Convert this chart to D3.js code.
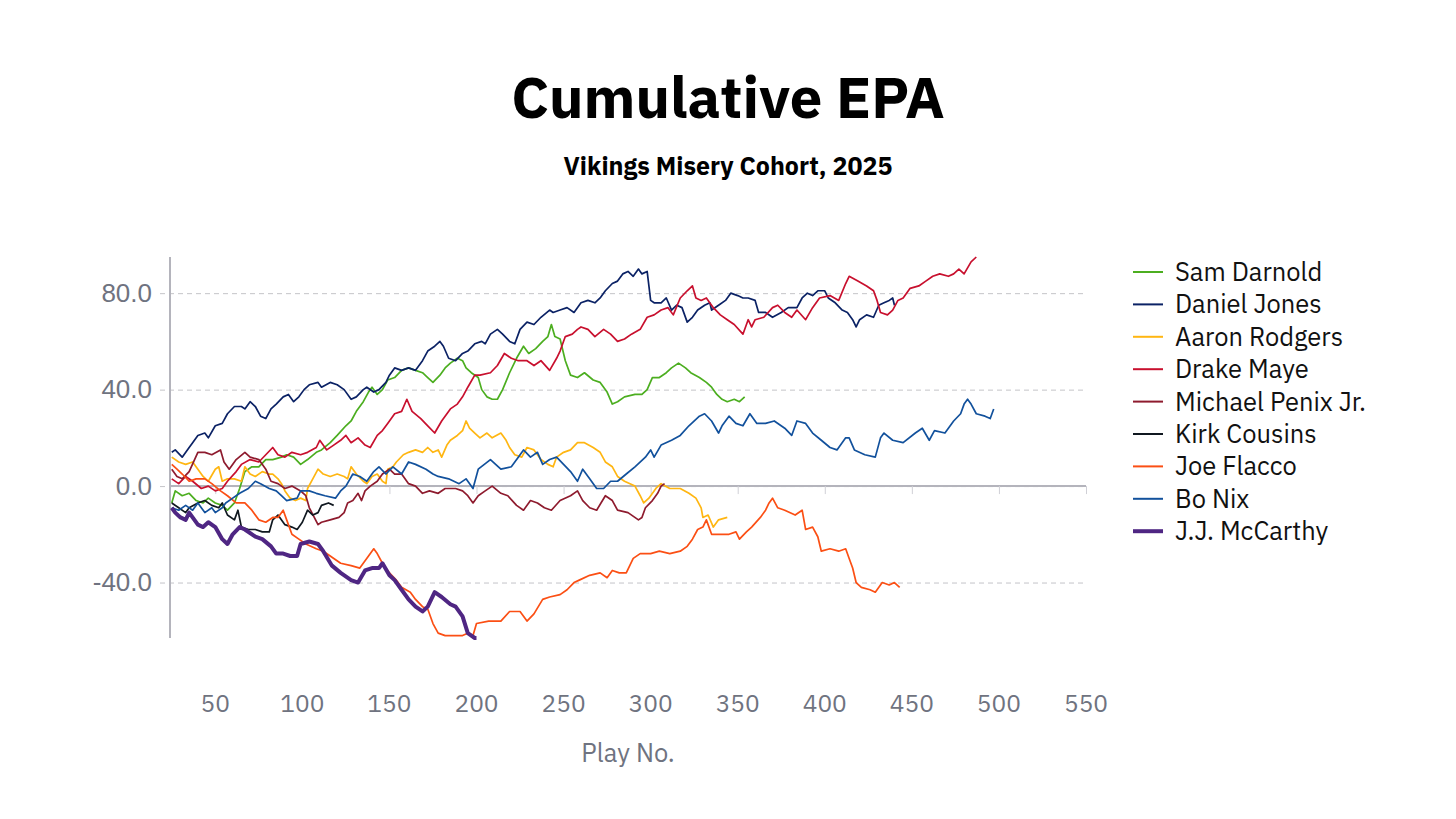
<!DOCTYPE html>
<html>
<head>
<meta charset="utf-8">
<script src="https://cdnjs.cloudflare.com/ajax/libs/d3/7.8.5/d3.min.js"></script>
<style>
  body { margin: 0; background: #fff; }
  svg { display: block; font-family: "IBM Plex Sans", Roboto, "Noto Sans", sans-serif; }
</style>
</head>
<body>
<svg id="chart"></svg>
<script>
// cumulative EPA by play number: [play, epa]
const samDarnold = [[25,-7],[27,-2],[31,-4],[35,-3],[39,-6],[43,-7],[46,-5],[50,-7],[54,-8],[57,-10],[61,-7],[64,-1],[67,6],[71,8],[75,8],[79,11],[83,11],[88,12],[91,13],[95,12],[99,9],[103,11],[108,14],[111,15],[116,18],[120,21],[125,25],[128,27],[131,31],[135,35],[138,39],[140,41],[143,38],[146,40],[149,44],[153,45],[157,48],[161,49],[165,48],[169,47],[172,45],[175,43],[179,46],[182,49],[185,51],[189,53],[192,52],[194,49],[197,47],[201,45],[203,40],[206,37],[209,36],[212,36],[215,40],[219,47],[223,53],[227,58],[230,55],[234,57],[238,60],[241,62],[243,67],[245,62],[248,61],[251,52],[254,46],[258,45],[262,47],[267,44],[271,43],[275,39],[278,34],[281,35],[285,37],[291,38],[295,38],[298,40],[301,45],[305,45],[309,47],[312,49],[316,51],[320,49],[323,47],[328,45],[332,43],[335,41],[338,38],[341,36],[344,35],[348,36],[351,35],[354,37]];

const danielJones = [[25,14],[27,15],[31,12],[35,16],[37,18],[40,21],[44,22],[46,20],[50,25],[54,26],[57,30],[61,33],[65,33],[67,32],[70,35],[73,33],[76,29],[79,28],[82,32],[85,34],[89,37],[92,38],[95,35],[98,37],[101,40],[104,42],[109,43],[111,41],[116,43],[120,42],[124,40],[128,36],[131,37],[135,40],[137,41],[141,39],[144,40],[148,43],[150,46],[153,49],[157,48],[161,49],[165,48],[169,52],[172,56],[176,58],[179,60],[181,58],[184,53],[188,52],[192,55],[195,56],[199,59],[203,60],[205,59],[208,63],[212,65],[215,63],[219,60],[222,59],[225,65],[229,68],[233,67],[237,70],[242,73],[244,72],[248,73],[252,74],[256,72],[260,76],[264,77],[268,76],[271,78],[274,81],[278,84],[281,85],[284,88],[287,89],[290,87],[293,90],[295,88],[298,89],[300,77],[302,76],[306,76],[309,78],[312,73],[315,75],[318,74],[321,68],[324,70],[327,73],[331,75],[334,76],[335,73],[339,75],[343,77],[346,80],[350,79],[353,78],[356,78],[360,77],[362,72],[366,72],[370,70],[375,72],[379,74],[384,74],[387,78],[390,80],[393,79],[396,81],[400,81],[402,78],[406,76],[410,73],[413,72],[416,69],[418,66],[420,69],[424,71],[428,70],[431,75],[434,76],[437,77],[439,78],[440,75]];

const aaronRodgers = [[25,12],[29,10],[33,9],[37,10],[40,7],[43,4],[46,2],[50,7],[52,8],[54,2],[57,3],[61,3],[65,2],[67,8],[70,5],[73,4],[77,6],[81,5],[83,5],[86,3],[88,1],[90,-2],[93,-5],[96,-6],[99,-5],[102,-6],[103,-1],[106,3],[109,7],[112,5],[116,4],[120,5],[124,4],[126,3],[128,8],[131,5],[135,2],[137,1],[140,4],[143,5],[146,2],[148,1],[149,7],[152,8],[154,10],[158,13],[161,14],[165,15],[169,14],[172,16],[175,14],[178,15],[180,12],[183,17],[185,19],[189,21],[192,23],[194,27],[196,24],[199,22],[202,20],[206,22],[209,20],[214,22],[217,19],[219,16],[222,13],[226,12],[229,16],[233,15],[237,11],[241,9],[244,8],[246,12],[250,14],[254,15],[258,18],[262,18],[267,16],[271,14],[274,10],[278,8],[281,4],[285,2],[291,0],[294,-4],[296,-7],[299,-5],[303,-1],[306,1],[311,-1],[317,-1],[322,-3],[326,-5],[329,-9],[330,-13],[333,-12],[336,-17],[339,-14],[344,-13]];

const drakeMaye = [[25,3],[29,1],[33,4],[37,2],[42,-1],[46,0],[50,-2],[54,-1],[57,2],[62,6],[65,9],[70,11],[75,10],[79,13],[83,16],[86,13],[90,12],[94,14],[99,13],[103,14],[108,16],[110,19],[114,15],[118,17],[122,19],[125,21],[128,18],[132,20],[136,17],[139,16],[143,21],[146,23],[149,26],[153,30],[157,31],[160,36],[163,31],[168,28],[172,25],[176,22],[180,27],[185,32],[189,34],[192,37],[195,41],[199,46],[202,46],[208,47],[212,50],[216,55],[220,53],[224,52],[229,52],[233,50],[237,52],[242,48],[246,53],[248,56],[251,62],[255,63],[258,65],[260,66],[264,65],[268,62],[273,65],[277,63],[281,60],[285,61],[289,63],[294,65],[298,70],[302,71],[306,73],[310,74],[313,71],[317,78],[321,81],[324,83],[326,78],[329,77],[332,78],[336,74],[340,71],[344,69],[348,67],[353,63],[356,69],[358,66],[360,69],[365,70],[370,74],[373,75],[377,72],[381,70],[384,73],[389,69],[393,74],[397,78],[403,79],[408,77],[412,84],[414,87],[419,85],[424,83],[428,81],[430,77],[432,72],[436,71],[439,73],[442,77],[445,78],[449,82],[454,83],[458,85],[462,87],[466,88],[471,87],[474,88],[477,90],[480,88],[484,93],[487,95]];

const michaelPenix = [[25,7],[28,4],[31,3],[35,6],[40,14],[44,14],[48,13],[53,15],[55,10],[58,7],[62,11],[67,14],[70,12],[75,11],[79,7],[82,2],[86,1],[90,-1],[94,0],[99,-2],[102,-4],[104,-9],[109,-16],[111,-15],[116,-14],[121,-13],[124,-11],[126,-7],[129,-6],[132,-3],[134,-6],[136,-2],[139,0],[143,2],[146,5],[150,7],[153,5],[157,5],[161,1],[165,0],[169,-3],[173,-2],[178,-3],[182,-1],[188,-1],[192,-2],[195,-4],[198,-7],[201,-4],[205,-2],[209,0],[214,-3],[218,-4],[223,-8],[227,-10],[231,-6],[235,-7],[239,-9],[243,-10],[248,-6],[254,-4],[258,-2],[261,-6],[265,-9],[269,-10],[274,-4],[278,-6],[281,-10],[287,-11],[293,-14],[295,-13],[297,-9],[301,-6],[304,-3],[306,0],[308,1]];

const kirkCousins = [[25,-7],[29,-9],[33,-11],[35,-9],[40,-7],[44,-6],[48,-8],[52,-9],[54,-7],[57,-12],[61,-14],[63,-10],[65,-17],[69,-18],[73,-18],[77,-19],[81,-19],[83,-14],[86,-12],[90,-16],[94,-17],[97,-18],[100,-15],[103,-10],[106,-12],[109,-11],[111,-8],[115,-7],[118,-8]];

const joeFlacco = [[25,9],[28,7],[31,5],[35,2],[39,3],[44,3],[48,1],[53,-2],[57,-4],[62,-7],[67,-7],[71,-10],[75,-14],[79,-15],[83,-13],[86,-13],[89,-10],[91,-14],[94,-20],[98,-22],[102,-24],[108,-26],[112,-27],[116,-29],[122,-32],[128,-33],[133,-34],[138,-29],[141,-26],[143,-28],[146,-32],[150,-36],[154,-39],[157,-42],[162,-44],[165,-47],[169,-50],[172,-51],[175,-57],[178,-61],[182,-62],[188,-62],[192,-62],[195,-61],[198,-62],[200,-57],[207,-56],[214,-56],[219,-52],[225,-52],[229,-56],[233,-53],[238,-47],[242,-46],[248,-45],[252,-43],[256,-40],[259,-39],[265,-37],[271,-36],[275,-38],[278,-35],[282,-36],[286,-36],[290,-30],[294,-28],[300,-28],[305,-27],[311,-28],[317,-27],[321,-25],[324,-22],[327,-18],[330,-17],[332,-14],[335,-20],[339,-20],[345,-20],[349,-19],[351,-22],[355,-19],[358,-17],[363,-13],[366,-10],[368,-7],[370,-5],[373,-9],[377,-10],[383,-12],[387,-10],[389,-18],[393,-17],[396,-21],[398,-27],[403,-26],[408,-27],[412,-26],[414,-30],[416,-34],[418,-40],[421,-42],[426,-43],[429,-44],[433,-40],[437,-41],[440,-40],[443,-42]];

const boNix = [[25,-9],[29,-10],[33,-8],[37,-10],[40,-7],[44,-11],[48,-9],[50,-11],[54,-9],[56,-7],[60,-5],[64,-3],[69,-1],[73,2],[76,1],[81,-1],[85,-2],[88,-4],[91,-6],[97,-5],[99,-2],[104,-2],[108,-3],[113,-4],[119,-5],[122,-2],[125,0],[129,5],[133,4],[137,2],[141,6],[144,8],[148,5],[152,8],[157,5],[161,10],[165,9],[171,7],[175,5],[178,4],[184,3],[190,1],[194,3],[198,-1],[201,7],[208,11],[214,7],[220,8],[224,12],[227,15],[231,12],[235,14],[238,9],[242,11],[246,12],[250,9],[254,6],[258,2],[261,7],[265,3],[269,-1],[273,-1],[277,2],[281,2],[286,5],[291,8],[297,12],[300,15],[302,12],[306,17],[312,19],[317,21],[322,25],[328,29],[331,30],[335,27],[339,22],[341,25],[345,29],[349,26],[353,25],[357,30],[361,26],[366,26],[371,27],[377,24],[381,21],[384,27],[389,26],[393,22],[398,19],[403,16],[407,15],[412,20],[414,20],[417,15],[423,13],[429,12],[432,20],[434,22],[439,19],[445,18],[452,22],[456,24],[460,19],[463,23],[469,22],[474,27],[478,30],[480,34],[482,36],[484,34],[487,30],[492,29],[495,28],[497,32]];

const jjMcCarthy = [[25,-9],[27,-11],[30,-13],[33,-14],[35,-11],[40,-16],[43,-17],[46,-15],[50,-17],[54,-22],[57,-24],[60,-20],[64,-17],[67,-18],[73,-21],[77,-22],[82,-25],[85,-28],[89,-28],[93,-29],[97,-29],[99,-24],[104,-23],[109,-24],[112,-27],[117,-33],[122,-36],[128,-39],[132,-40],[136,-35],[140,-34],[144,-34],[146,-32],[150,-37],[153,-39],[157,-43],[161,-47],[165,-50],[169,-52],[172,-50],[176,-44],[180,-46],[185,-49],[188,-50],[192,-54],[195,-61],[199,-63],[200,-63]];

const players = ["Sam Darnold", "Daniel Jones", "Aaron Rodgers", "Drake Maye", "Michael Penix Jr.", "Kirk Cousins", "Joe Flacco", "Bo Nix", "J.J. McCarthy"];
const playerData = [samDarnold, danielJones, aaronRodgers, drakeMaye, michaelPenix, kirkCousins, joeFlacco, boNix, jjMcCarthy];
const colors = ["#4cae20", "#0b2265", "#ffb612", "#c8102e", "#8e1b2e", "#101820", "#fb4f14", "#12519c", "#4f2683"];

const xTicks = [50, 100, 150, 200, 250, 300, 350, 400, 450, 500, 550];
const yTicks = [-40, 0, 40, 80];

const width = 1456, height = 819;
const svg = d3.select("#chart").attr("width", width).attr("height", height);

const xScale = d3.scaleLinear().domain([24, 550]).range([170, 1086]);
const yScale = d3.scaleLinear().domain([-63, 95]).range([638, 257]);

// titles
svg.append("text")
  .attr("x", 728).attr("y", 118)
  .attr("text-anchor", "middle")
  .style("font-size", "58px").style("font-weight", "700")
  .attr("fill", "#000")
  .text("Cumulative EPA");

svg.append("text")
  .attr("x", 728).attr("y", 175)
  .attr("text-anchor", "middle")
  .style("font-size", "25px").style("font-weight", "700")
  .attr("fill", "#000")
  .text("Vikings Misery Cohort, 2025");

// gridlines (dashed) + y labels, plain hyphen for negatives
const yAxis = d3.axisLeft(yScale).tickValues(yTicks).tickFormat(d => d.toFixed(1))
  .tickSize(-(1086 - 160)).tickPadding(8);
const gy = svg.append("g").attr("transform", "translate(160,0)").call(yAxis);
gy.select(".domain").remove();
gy.selectAll(".tick line").attr("stroke", "#c4c4c8").attr("stroke-dasharray", "5,4");
gy.selectAll(".tick text").attr("fill", "#6f7380").style("font-size", "26px");

// y axis line
svg.append("line")
  .attr("x1", 170).attr("x2", 170)
  .attr("y1", yScale(95)).attr("y2", yScale(-63))
  .attr("stroke", "#b4b4bc").attr("stroke-width", 2);

// zero line with small ticks
const xAxis = d3.axisBottom(xScale).tickValues(xTicks).tickSize(8).tickFormat("");
const gx = svg.append("g").attr("transform", `translate(0,${yScale(0)})`).call(xAxis);
gx.select(".domain").attr("stroke", "#b4b4bc").attr("stroke-width", 2)
  .attr("d", `M170,0H1086`);
gx.selectAll(".tick line").attr("stroke", "#d0d0d6");

// x labels at the bottom
svg.append("g").selectAll("text")
  .data(xTicks)
  .enter()
  .append("text")
    .attr("x", d => xScale(d))
    .attr("y", 712)
    .attr("text-anchor", "middle")
    .attr("fill", "#6f7380")
    .style("font-size", "24.5px")
    .text(d => d);

svg.append("text")
  .attr("x", 628).attr("y", 762)
  .attr("text-anchor", "middle")
  .attr("fill", "#6f7380")
  .style("font-size", "25.5px")
  .text("Play No.");

// lines
const line = d3.line()
  .x(d => xScale(d[0]))
  .y(d => yScale(d[1]));

svg.append("g").selectAll("path")
  .data(playerData)
  .enter()
  .append("path")
    .attr("d", line)
    .attr("fill", "none")
    .attr("stroke", (d, i) => colors[i])
    .attr("stroke-width", (d, i) => i == 8 ? 4 : 1.7)
    .attr("stroke-linejoin", "round");

// legend
const legend = svg.append("g").selectAll("g")
  .data(players)
  .enter()
  .append("g")
    .attr("transform", (d, i) => `translate(1133,${272 + i * 32.4})`);

legend.append("line")
  .attr("x1", 0).attr("x2", 30)
  .attr("stroke", (d, i) => colors[i])
  .attr("stroke-width", (d, i) => i == 8 ? 4 : 2);

legend.append("text")
  .attr("x", 42).attr("dy", "0.35em")
  .attr("fill", "#111")
  .style("font-size", "25.5px")
  .text(d => d);
</script>
</body>
</html>
